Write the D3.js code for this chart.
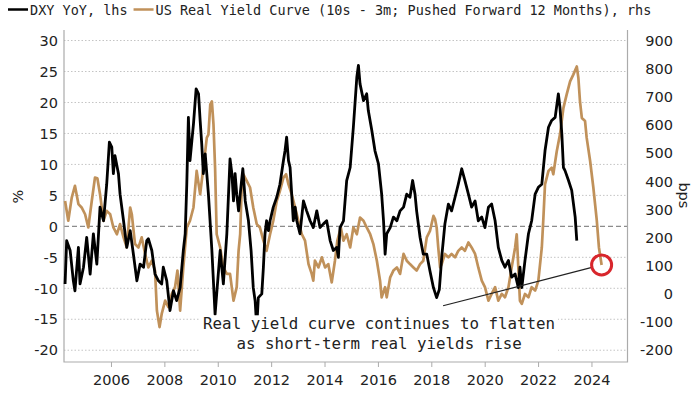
<!DOCTYPE html>
<html>
<head>
<meta charset="utf-8">
<script src="https://cdn.jsdelivr.net/npm/d3@7"></script>
<style>
  body { margin: 0; background: #fff; }
  svg { display: block; font-family: "DejaVu Sans", Verdana, sans-serif; }
  .mono { font-family: "DejaVu Sans Mono", monospace; }
</style>
</head>
<body>
<div id="chart"></div>
<script>
// DXY YoY (%), left axis
var dxyYears = [2004.28, 2004.34, 2004.47, 2004.59, 2004.65, 2004.78, 2004.84, 2004.97, 2005.09, 2005.22, 2005.34, 2005.47,
  2005.59, 2005.72, 2005.84, 2005.94, 2006.03, 2006.09, 2006.15, 2006.28, 2006.34, 2006.47, 2006.59, 2006.72, 2006.84, 2006.97,
  2007.09, 2007.22, 2007.34, 2007.40, 2007.53, 2007.65, 2007.78, 2007.90, 2007.96, 2008.09, 2008.21, 2008.34, 2008.46, 2008.59,
  2008.71, 2008.78, 2008.84, 2008.90, 2008.96, 2009.03, 2009.09, 2009.19, 2009.28, 2009.34, 2009.40, 2009.46, 2009.53, 2009.65,
  2009.78, 2009.90, 2009.96, 2010.09, 2010.21, 2010.34, 2010.46, 2010.53, 2010.59, 2010.65, 2010.71, 2010.78, 2010.84, 2010.94,
  2011.03, 2011.15, 2011.25, 2011.33, 2011.40, 2011.46, 2011.52, 2011.65, 2011.71, 2011.77, 2011.83, 2011.90, 2011.96, 2012.08,
  2012.21, 2012.33, 2012.46, 2012.52, 2012.58, 2012.65, 2012.71, 2012.77, 2012.83, 2012.90, 2012.96, 2013.08, 2013.21, 2013.33,
  2013.46, 2013.58, 2013.71, 2013.83, 2013.96, 2014.08, 2014.21, 2014.33, 2014.46, 2014.52, 2014.58, 2014.71, 2014.83, 2014.96,
  2015.08, 2015.21, 2015.27, 2015.33, 2015.46, 2015.58, 2015.64, 2015.77, 2015.89, 2016.02, 2016.14, 2016.21, 2016.27, 2016.33,
  2016.46, 2016.58, 2016.71, 2016.83, 2016.96, 2017.08, 2017.20, 2017.30, 2017.39, 2017.45, 2017.58, 2017.70, 2017.83, 2017.95,
  2018.08, 2018.20, 2018.30, 2018.40, 2018.51, 2018.64, 2018.76, 2018.89, 2019.01, 2019.14, 2019.26, 2019.39, 2019.51, 2019.64,
  2019.76, 2019.89, 2020.01, 2020.14, 2020.26, 2020.39, 2020.51, 2020.64, 2020.76, 2020.89, 2021.01, 2021.14, 2021.26, 2021.32,
  2021.39, 2021.51, 2021.64, 2021.76, 2021.89, 2022.01, 2022.14, 2022.26, 2022.39, 2022.51, 2022.64, 2022.76, 2022.82, 2022.89,
  2022.95, 2023.01, 2023.14, 2023.26, 2023.39, 2023.45];
var dxyValues = [-9.3, -2.3, -3.9, -8.8, -10.4, -3.4, -9.3, -6.6, -1.8, -7.7, -1.2, -6.1,
  3.1, 0.9, 6.8, 13.6, 12.8, 8.5, 11.4, 8.5, 5.2, 0.9, -3.4, -0.7, -4.5, -8.8,
  -6.1, -6.6, -2.3, -2.0, -3.9, -7.7, -8.8, -9.3, -6.6, -8.8, -13.6, -10.4, -12.0, -9.9,
  -3.9, -1.2, 6.8, 17.6, 10.6, 13.8, 16.5, 22.2, 21.4, 17.1, 13.3, 8.5, 11.7, 5.2,
  -3.9, -14.2, -10.9, -3.9, -9.3, -1.2, 10.9, 8.5, 4.1, 8.5, 5.2, 2.5, 5.2, 9.3,
  4.1, 0.9, -4.0, -9.9, -12.0, -16.3, -11.5, -10.9, -6.6, -1.2, 0.9, -0.7, 0.9, 3.1,
  4.7, 6.8, 10.6, 12.2, 14.4, 10.6, 9.5, 5.2, 0.9, 3.1, 0.9, -1.2, 4.1, 2.5,
  0.9, -0.2, 2.5, -0.2, 0.4, 0.9, -2.3, -3.9, -3.4, -5.0, -0.2, 0.9, 7.4, 9.5,
  16.0, 24.1, 26.0, 23.0, 20.3, 21.4, 18.7, 15.5, 12.2, 10.1, 5.2, 0.9, -4.5, -1.2,
  -0.2, 1.5, 0.9, 2.5, 3.1, 5.2, 4.7, 7.4, 5.2, 2.5, -1.8, -4.5, -4.5, -7.2,
  -9.9, -11.5, -10.2, -4.5, 0.4, 3.6, 2.5, 4.7, 6.8, 9.3, 7.4, 5.2, 3.1, 4.1,
  0.9, 1.5, -0.2, 3.1, 3.6, 0.9, -3.4, -5.5, -6.6, -5.5, -8.2, -7.7, -9.9, -6.6,
  -9.9, -5.5, -1.2, 0.9, 5.2, 6.3, 6.8, 12.2, 16.0, 17.1, 17.6, 21.4, 19.2, 14.9,
  9.5, 9.0, 7.4, 5.8, 1.5, -2.3];

// US real yield curve, 10s - 3m pushed forward 12 months (bps), right axis
var curveYears = [2004.28, 2004.40, 2004.53, 2004.65, 2004.78, 2004.90, 2005.03, 2005.15, 2005.28, 2005.40, 2005.49, 2005.59,
  2005.72, 2005.84, 2005.97, 2006.09, 2006.22, 2006.34, 2006.47, 2006.59, 2006.72, 2006.78, 2006.90, 2007.03, 2007.15, 2007.28,
  2007.40, 2007.53, 2007.65, 2007.72, 2007.82, 2007.90, 2008.03, 2008.15, 2008.28, 2008.40, 2008.49, 2008.59, 2008.71, 2008.84,
  2008.96, 2009.09, 2009.21, 2009.34, 2009.46, 2009.59, 2009.65, 2009.72, 2009.78, 2009.84, 2009.90, 2009.96, 2010.09, 2010.21,
  2010.34, 2010.46, 2010.59, 2010.71, 2010.78, 2010.84, 2010.90, 2010.96, 2011.09, 2011.21, 2011.33, 2011.46, 2011.58, 2011.71,
  2011.83, 2011.96, 2012.08, 2012.21, 2012.33, 2012.46, 2012.56, 2012.65, 2012.77, 2012.90, 2013.02, 2013.15, 2013.27, 2013.40,
  2013.52, 2013.58, 2013.64, 2013.77, 2013.90, 2014.02, 2014.14, 2014.27, 2014.39, 2014.48, 2014.61, 2014.71, 2014.83, 2014.96,
  2015.08, 2015.21, 2015.33, 2015.46, 2015.58, 2015.71, 2015.83, 2015.96, 2016.08, 2016.14, 2016.27, 2016.33, 2016.46, 2016.58,
  2016.71, 2016.83, 2016.96, 2017.08, 2017.20, 2017.33, 2017.45, 2017.58, 2017.70, 2017.83, 2017.95, 2018.08, 2018.14, 2018.20,
  2018.26, 2018.33, 2018.39, 2018.51, 2018.64, 2018.76, 2018.89, 2019.01, 2019.14, 2019.26, 2019.39, 2019.51, 2019.64, 2019.76,
  2019.89, 2020.01, 2020.14, 2020.26, 2020.39, 2020.51, 2020.64, 2020.76, 2020.89, 2021.01, 2021.14, 2021.20, 2021.26, 2021.32,
  2021.39, 2021.51, 2021.64, 2021.76, 2021.89, 2022.01, 2022.14, 2022.20, 2022.26, 2022.39, 2022.51, 2022.57, 2022.70, 2022.82,
  2022.95, 2023.07, 2023.20, 2023.32, 2023.45, 2023.51, 2023.57, 2023.64, 2023.76, 2023.82, 2023.95, 2024.07, 2024.20, 2024.28,
  2024.38];
var curveBps = [330, 260, 342, 384, 319, 307, 283, 236, 330, 413, 411, 354,
  260, 295, 283, 236, 212, 248, 201, 165, 307, 283, 177, 165, 201, 142,
  94, 118, 83, -59, -118, -71, -24, -47, 0, 24, 83, -59, 94, 236,
  260, 307, 437, 354, 448, 555, 566, 673, 684, 602, 448, 212, 165, 94,
  71, 71, -24, 24, 153, 212, 389, 425, 401, 378, 307, 248, 236, 189,
  153, 212, 260, 330, 366, 413, 425, 389, 354, 307, 260, 212, 189, 106,
  71, 47, 118, 94, 130, 94, 106, 41, 118, 189, 236, 189, 212, 165,
  236, 212, 271, 260, 236, 212, 177, 118, 47, -12, 24, -12, 59, 83,
  94, 71, 142, 118, 106, 94, 83, 106, 118, 201, 224, 277, 266, 236,
  165, 94, 106, 142, 130, 142, 130, 153, 165, 153, 183, 165, 142, 94,
  47, 24, -24, 0, 24, -24, 0, -12, 24, 94, 165, 212, 94, -24,
  -35, 0, -12, 24, 12, 47, 165, 271, 389, 437, 448, 425, 507, 566,
  661, 708, 755, 779, 808, 767, 684, 625, 614, 555, 472, 378, 260, 165,
  103];

var xTickYears = [2006, 2008, 2010, 2012, 2014, 2016, 2018, 2020, 2022, 2024];
var leftTicks = [-20, -15, -10, -5, 0, 5, 10, 15, 20, 25, 30];
var rightTicks = [-200, -100, 0, 100, 200, 300, 400, 500, 600, 700, 800, 900];
var legendLabels = ['DXY YoY, lhs', 'US Real Yield Curve (10s - 3m; Pushed Forward 12 Months), rhs'];
var noteLines = ['Real yield curve continues to flatten', 'as short-term real yields rise'];
var noteStart = [2018.44, -42]; // where the pointer line leaves the note

(function () {

  var colorDxy = '#000000',
      colorCurve = '#c0915a';

  // Set margin parameters
  var margin = {top: 30, right: 72.5, bottom: 32, left: 64},
      width = 700 - margin.left - margin.right,
      height = 394 - margin.top - margin.bottom;

  // x maps decimal years, both y scales share the same pixel range (30 <-> 900, -20 <-> -200)
  var x = d3.scaleLinear().domain([2004.24, 2025.35]).range([0, width]);
  var yLeft = d3.scaleLinear().domain([-21.9, 31.7]).range([height, 0]);
  var yRight = d3.scaleLinear().domain([240 + 22 * -21.9, 240 + 22 * 31.7]).range([height, 0]);

  var svg = d3.select('#chart')
      .append('svg')
      .attr('width', 700)
      .attr('height', 394);

  var g = svg.append('g')
      .attr('transform', 'translate(' + margin.left + ',' + margin.top + ')');

  // Gridlines on left ticks, zero line dashed
  g.selectAll('.grid')
      .data(leftTicks)
      .enter().append('line')
      .attr('x1', 0)
      .attr('x2', width)
      .attr('y1', function(d) { return yLeft(d); })
      .attr('y2', function(d) { return yLeft(d); })
      .attr('stroke', function(d) { return d === 0 ? '#8c8c8c' : '#c4c4c4'; })
      .attr('stroke-width', function(d) { return d === 0 ? 1.2 : 1; })
      .attr('stroke-dasharray', function(d) { return d === 0 ? '5,3' : '1.5,2'; });

  // Frame: left, right, bottom
  g.append('path')
      .attr('d', 'M0,0V' + height + 'H' + width + 'V0')
      .attr('fill', 'none')
      .attr('stroke', '#ababab')
      .attr('stroke-width', 1.2);

  // x axis
  var xAxis = g.append('g')
      .attr('transform', 'translate(0,' + height + ')')
      .call(d3.axisBottom(x)
        .tickValues(xTickYears)
        .tickFormat(d3.format('d'))
        .tickSize(5)
        .tickPadding(7.5));
  xAxis.select('.domain').remove();
  xAxis.selectAll('line').attr('stroke', '#ababab');
  xAxis.selectAll('text')
      .attr('fill', '#222')
      .style('font-family', '"DejaVu Sans", sans-serif')
      .style('font-size', '14.5px');

  // Left tick labels
  g.selectAll('.ltick')
      .data(leftTicks)
      .enter().append('text')
      .attr('x', -6)
      .attr('y', function(d) { return yLeft(d); })
      .attr('dy', '0.36em')
      .attr('text-anchor', 'end')
      .attr('fill', '#222')
      .style('font-size', '14.5px')
      .text(function(d) { return d; });

  // Right tick labels
  g.selectAll('.rtick')
      .data(rightTicks)
      .enter().append('text')
      .attr('x', width + 45.5)
      .attr('y', function(d) { return yRight(d); })
      .attr('dy', '0.36em')
      .attr('text-anchor', 'end')
      .attr('fill', '#222')
      .style('font-size', '14.5px')
      .text(function(d) { return d; });

  // Axis titles
  svg.append('text')
      .attr('transform', 'translate(18,' + (margin.top + yLeft(4.8)) + ') rotate(-90)')
      .attr('text-anchor', 'middle')
      .attr('dy', '0.36em')
      .attr('fill', '#222')
      .style('font-size', '14.5px')
      .text('%');
  svg.append('text')
      .attr('transform', 'translate(684,' + (margin.top + yLeft(5)) + ') rotate(90)')
      .attr('text-anchor', 'middle')
      .attr('dy', '0.36em')
      .attr('fill', '#222')
      .style('font-size', '14.5px')
      .text('bps');

  // Lines
  var curveData = d3.zip(curveYears, curveBps);
  var dxyData = d3.zip(dxyYears, dxyValues);

  var lineCurve = d3.line()
      .x(function(d) { return x(d[0]); })
      .y(function(d) { return yRight(d[1]); });

  var lineDxy = d3.line()
      .x(function(d) { return x(d[0]); })
      .y(function(d) { return yLeft(d[1]); });

  g.append('path')
      .datum(curveData)
      .attr('fill', 'none')
      .attr('stroke', colorCurve)
      .attr('stroke-width', 2.7)
      .attr('stroke-linejoin', 'round')
      .attr('d', lineCurve);

  g.append('path')
      .datum(dxyData)
      .attr('fill', 'none')
      .attr('stroke', colorDxy)
      .attr('stroke-width', 2.8)
      .attr('stroke-linejoin', 'round')
      .attr('d', lineDxy);

  // Annotation: note box, pointer line and circle on the last curve point
  var last = curveData[curveData.length - 1];
  var cx = x(last[0]), cy = yRight(last[1]), r = 10;
  var sx = x(noteStart[0]), sy = yRight(noteStart[1]);
  var len = Math.sqrt((cx - sx) * (cx - sx) + (cy - sy) * (cy - sy));

  var noteX = sx - 64, noteY = 299.3;
  var note = g.append('g').attr('class', 'mono');
  var noteBg = note.append('rect').attr('fill', '#fff');
  note.selectAll('text')
      .data(noteLines)
      .enter().append('text')
      .attr('x', noteX)
      .attr('y', function(d, i) { return noteY + i * 20; })
      .attr('text-anchor', 'middle')
      .attr('fill', '#222')
      .style('font-size', '15.8px')
      .text(function(d) { return d; });
  var box = note.node().getBBox();
  noteBg.attr('x', box.x - 3).attr('y', box.y + 1)
      .attr('width', box.width + 6).attr('height', 36);

  g.append('line')
      .attr('x1', sx)
      .attr('y1', sy)
      .attr('x2', cx - (cx - sx) / len * r)
      .attr('y2', cy - (cy - sy) / len * r)
      .attr('stroke', '#222')
      .attr('stroke-width', 1.2);

  g.append('circle')
      .attr('cx', cx)
      .attr('cy', cy)
      .attr('r', r)
      .attr('fill', 'none')
      .attr('stroke', '#d8262c')
      .attr('stroke-width', 3);

  // Legend
  var legend = svg.append('g').attr('class', 'mono');
  var lx = 8;
  legendLabels.forEach(function(label, i) {
    legend.append('line')
        .attr('x1', lx).attr('x2', lx + 20)
        .attr('y1', 9.5).attr('y2', 9.5)
        .attr('stroke', i === 0 ? colorDxy : colorCurve)
        .attr('stroke-width', 2.5);
    var t = legend.append('text')
        .attr('x', lx + 22)
        .attr('y', 14.5)
        .attr('fill', '#222')
        .style('font-size', '13.5px')
        .text(label);
    lx = lx + 22 + t.node().getComputedTextLength() + 6;
  });

})();
</script>
</body>
</html>
